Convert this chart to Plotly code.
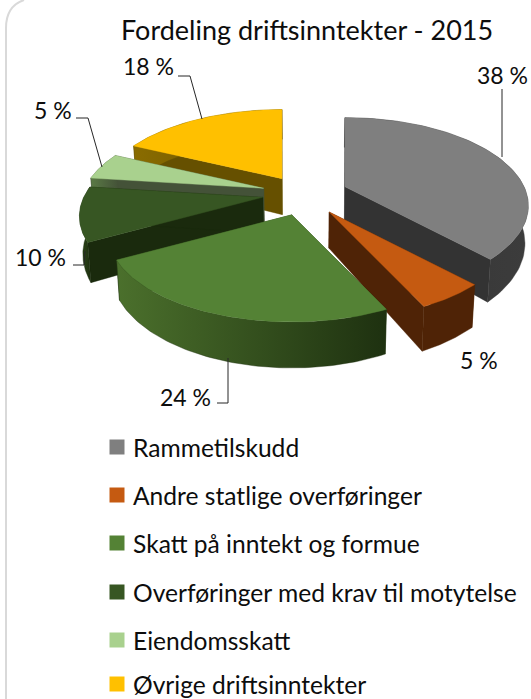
import numpy as np
import plotly.graph_objects as go

categories = ["Rammetilskudd", "Andre statlige overføringer", "Skatt på inntekt og formue",
              "Overføringer med krav til motytelse", "Eiendomsskatt", "Øvrige driftsinntekter"]
values = [38, 5, 24, 10, 5, 18]
title = "Fordeling driftsinntekter - 2015"

top_colors = ["#7f7f7f", "#c55a11", "#548235", "#375623", "#a9d18e", "#ffc000"]
face_colors = ["#333333", "#4f2306", "#2a4218", "#1a2a0d", "#445238", "#665000"]
wall_left = ["#333333", "#4f2306", "#4b702c", "#2e481b", "#5a7a45", "#8a6c00"]
wall_right = ["#3c3c3c", "#4f2306", "#1e3110", "#1a2a0d", "#445238", "#665000"]
draw_order = [5, 4, 3, 0, 1, 2]

# Projection of the tilted, exploded pie
CX, CY = 305, 193
B, A, K = 179, 84, 0.216
EX, EY_BACK, EY_FRONT = 43, 17, 23
DEPTH = 36
SHRINK = 0.985


def project(theta, apex):
    c, s = np.cos(theta), np.sin(theta)
    p = 1 / (1 + K * c)
    return apex[0] + B * s * p, apex[1] - A * c * p, DEPTH * p


def low(x, y, d):
    return CX + (x - CX) * SHRINK, y + d


def poly(x, y, color, grad=None):
    kw = dict(x=np.r_[x, x[0]], y=np.r_[y, y[0]], mode="lines", fill="toself",
              line=dict(width=0.4, color=color), hoverinfo="skip", showlegend=False)
    if grad:
        kw["fillgradient"] = dict(type="horizontal", colorscale=[[0, grad[0]], [1, grad[1]]])
    else:
        kw["fillcolor"] = color
    return go.Scatter(**kw)


fig = go.Figure()
total = sum(values)
edges = np.cumsum([0] + values) / total * 2 * np.pi

for i in draw_order:
    t0, t1 = edges[i], edges[i + 1]
    mid = (t0 + t1) / 2
    ey = EY_BACK if np.cos(mid) > 0 else EY_FRONT
    apex = (CX + EX * np.sin(mid), CY - ey * np.cos(mid))
    th = np.linspace(t0, t1, 80)
    ax, ay, ad = apex[0], apex[1], DEPTH
    x, y, d = project(th, apex)
    bx, by = low(x, y, d)
    abx, aby = low(ax, ay, ad)
    # cut faces
    for k in (0, -1):
        fig.add_trace(poly(np.array([ax, x[k], bx[k], abx]), np.array([ay, y[k], by[k], aby]), face_colors[i]))
    # outer wall
    fig.add_trace(poly(np.r_[x, bx[::-1]], np.r_[y, by[::-1]], wall_right[i], (wall_left[i], wall_right[i])))
    # top
    fig.add_trace(poly(np.r_[ax, x], np.r_[ay, y], top_colors[i]))

# Legend
legend_y = [447, 495, 543, 592, 640, 684]
fig.add_trace(go.Scatter(x=[117] * 6, y=legend_y, mode="markers",
                         marker=dict(symbol="square", size=15, color=top_colors, line=dict(width=0)),
                         hoverinfo="skip", showlegend=False))

FONT = "Lato"
annotations = [dict(x=307, y=29, text=title, font=dict(size=27))]
label_pos = [(502, 75), (479, 360), (185, 397), (40, 257), (53, 110), (148, 66)]
for v, (lx, ly) in zip(values, label_pos):
    annotations.append(dict(x=lx, y=ly, text=f"{v} %", font=dict(size=23)))
for c, ly in zip(categories, legend_y):
    annotations.append(dict(x=131, y=ly, text=c, xanchor="left", font=dict(size=24.6)))
for a in annotations:
    a.update(xref="x", yref="y", showarrow=False)
    a.setdefault("xanchor", "center")
    a["yanchor"] = "middle"
    a["font"].update(family=FONT, color="#0d0d0d")

leaders = [
    [(502, 89), (502, 157)],
    [(178, 76), (190, 76), (202, 119)],
    [(76, 118), (88, 118), (102, 167)],
    [(73, 265), (84, 265), (85, 251)],
    [(228, 358), (228, 403), (217, 403)],
]
shapes = []
for pts in leaders:
    path = "M" + " L".join(f"{px},{py}" for px, py in pts)
    shapes.append(dict(type="path", path=path, xref="x", yref="y", line=dict(color="#262626", width=1)))
shapes.append(dict(type="path", path="M6,699 L6,28 Q6,6 24,0", xref="x", yref="y",
                   line=dict(color="#d9d9d9", width=2)))

fig.update_layout(
    width=531, height=699, autosize=False,
    margin=dict(l=0, r=0, t=0, b=0),
    paper_bgcolor="white", plot_bgcolor="white",
    xaxis=dict(range=[0, 531], visible=False, fixedrange=True),
    yaxis=dict(range=[699, 0], visible=False, fixedrange=True),
    annotations=annotations, shapes=shapes, showlegend=False,
)
fig.write_html("out.html", config=dict(displayModeBar=False),
               post_script="document.body.style.margin='0';document.body.style.overflow='hidden';")
